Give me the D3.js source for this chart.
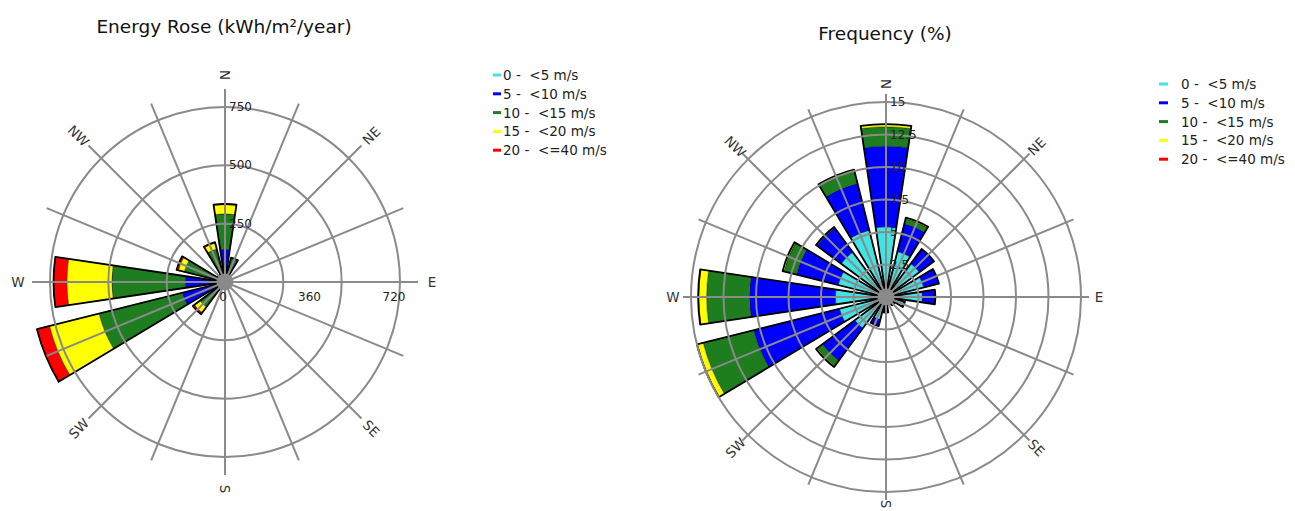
<!DOCTYPE html>
<html lang="en">
<head>
    <meta charset="UTF-8">
    <title>Energy Rose and Frequency Rose</title>
    <script src="https://d3js.org/d3.v7.min.js"></script>
    <style>
        body {
            margin: 0;
            background: white;
            overflow: hidden;
        }
        svg {
            display: block;
            font-family: "DejaVu Sans", sans-serif;
        }
    </style>
</head>
<body>
    <svg id="chart" width="1295" height="511"></svg>

    <script>
        const directions = ["N", "NNE", "NE", "ENE", "E", "ESE", "SE", "SSE",
                            "S", "SSW", "SW", "WSW", "W", "WNW", "NW", "NNW"];
        const compassLabels = ["N", "NE", "E", "SE", "S", "SW", "W", "NW"];
        const speedClasses = ["0 -  <5 m/s", "5 -  <10 m/s", "10 -  <15 m/s",
                              "15 -  <20 m/s", "20 -  <=40 m/s"];

        // energy rose, kWh/m²/year per speed class
        const energy0to5   = [12, 5, 4, 3, 3, 1, 1, 1, 1, 2, 5, 8, 8, 4, 4, 5];
        const energy5to10  = [128, 35, 10, 6, 5, 1, 0, 0, 2, 6, 55, 181, 163, 60, 22, 45];
        const energy10to15 = [152, 65, 0, 0, 0, 0, 0, 0, 0, 10, 74, 368, 314, 116, 12, 96];
        const energy15to20 = [40, 3, 0, 0, 0, 0, 0, 0, 0, 0, 30, 219, 193, 26, 0, 26];
        const energy20to40 = [3, 0, 0, 0, 0, 0, 0, 0, 0, 0, 8, 55, 57, 8, 0, 4];

        // frequency rose, % per speed class
        const freq0to5   = [5.4, 3.6, 3.2, 3.0, 2.8, 1.4, 0.8, 0.6, 0.9, 1.8, 3.0, 3.7, 3.9, 3.8, 4.3, 5.3];
        const freq5to10  = [6.2, 2.2, 1.4, 1.2, 1.0, 0.1, 0, 0, 0.3, 0.5, 3.1, 6.8, 6.6, 3.3, 2.3, 3.7];
        const freq10to15 = [1.5, 0.4, 0, 0, 0, 0, 0, 0, 0, 0, 0.5, 4.0, 3.3, 1.0, 0.1, 1.0];
        const freq15to20 = [0.2, 0.1, 0, 0, 0, 0, 0, 0, 0, 0, 0.1, 0.45, 0.6, 0.1, 0, 0.1];
        const freq20to40 = [0, 0, 0, 0, 0, 0, 0, 0, 0, 0, 0, 0.05, 0.05, 0, 0, 0];

        // tick labels
        const energyRingTicks = [250, 500, 750];
        const energyAxisTicks = [0, 360, 720];
        const freqRingTicks = [2.5, 5, 7.5, 10, 12.5, 15];

        const classColors = ["#40e4e4", "#0000ff", "#1e7d1e", "#ffff00", "#ff0000"];
        const gridColor = "#8a8a8a";
        const height = 511;

        const svg = d3.select("#chart");

        function drawRose(cfg) {
            const g = svg.append("g")
                .attr("transform", `translate(${cfg.cx},${cfg.cy})`);

            const r = d3.scaleLinear()
                .domain([0, cfg.maxValue])
                .range([0, cfg.radius]);

            // band per direction, N centred on 0
            const step = 2 * Math.PI / directions.length;
            const angle = d3.scaleBand()
                .domain(directions)
                .range([-step / 2, 2 * Math.PI - step / 2])
                .paddingInner(0.25)
                .paddingOuter(0.125);
            const mid = d => angle(d) + angle.bandwidth() / 2;

            const rows = directions.map((d, i) => {
                const row = {dir: d};
                cfg.series.forEach((s, k) => row[k] = s[i]);
                return row;
            });
            const keys = d3.range(cfg.series.length);
            const stacked = d3.stack().keys(keys)(rows);

            const segArc = d3.arc()
                .innerRadius(d => r(d[0]))
                .outerRadius(d => r(d[1]))
                .startAngle(d => angle(d.data.dir))
                .endAngle(d => angle(d.data.dir) + angle.bandwidth());

            g.selectAll("g.layer")
                .data(stacked)
                .enter()
                .append("g")
                .attr("class", "layer")
                .attr("fill", (d, i) => classColors[i])
                .selectAll("path")
                .data(d => d.filter(p => p[1] - p[0] > 0))
                .enter()
                .append("path")
                .attr("d", segArc)
                .attr("stroke", "#000")
                .attr("stroke-opacity", 0.55)
                .attr("stroke-width", 0.6);

            // black outline of every bar
            const outline = d3.arc()
                .innerRadius(0)
                .outerRadius(d => r(d3.sum(keys, k => d[k])))
                .startAngle(d => angle(d.dir))
                .endAngle(d => angle(d.dir) + angle.bandwidth());

            g.selectAll("path.outline")
                .data(rows.filter(d => d3.sum(keys, k => d[k]) > 0))
                .enter()
                .append("path")
                .attr("class", "outline")
                .attr("d", outline)
                .attr("fill", "none")
                .attr("stroke", "#000")
                .attr("stroke-width", 1.8)
                .attr("stroke-linejoin", "round");

            // grid on top of the bars
            g.selectAll("circle.ring")
                .data(cfg.ringTicks)
                .enter()
                .append("circle")
                .attr("class", "ring")
                .attr("r", d => r(d))
                .attr("fill", "none")
                .attr("stroke", gridColor)
                .attr("stroke-width", 2);

            g.selectAll("line.spoke")
                .data(directions)
                .enter()
                .append("line")
                .attr("class", "spoke")
                .attr("x1", 0)
                .attr("y1", 0)
                .attr("x2", d => d3.pointRadial(mid(d), cfg.spokeLength)[0])
                .attr("y2", d => d3.pointRadial(mid(d), cfg.spokeLength)[1])
                .attr("stroke", gridColor)
                .attr("stroke-width", 2);

            g.append("circle")
                .attr("r", 8.5)
                .attr("fill", gridColor);

            // compass labels, written along the radius; keep the bottom one inside the picture
            g.selectAll("text.compass")
                .data(compassLabels)
                .enter()
                .append("text")
                .attr("class", "compass")
                .attr("transform", d => {
                    const a = mid(d);
                    let rad = cfg.labelRadius;
                    if (-Math.cos(a) > 0.9) rad = Math.min(rad, (height - 7 - cfg.cy) / -Math.cos(a));
                    const [x, y] = d3.pointRadial(a, rad);
                    let rot = a * 180 / Math.PI + 90;
                    while (rot > 90) rot -= 180;
                    return `translate(${x},${y}) rotate(${rot})`;
                })
                .attr("text-anchor", "middle")
                .attr("dominant-baseline", "central")
                .attr("fill", "#333")
                .style("font-size", "13.5px")
                .text(d => d);

            // ring values along the north spoke
            g.selectAll("text.ringTick")
                .data(cfg.ringTicks)
                .enter()
                .append("text")
                .attr("class", "ringTick")
                .attr("x", 4)
                .attr("y", d => -r(d))
                .attr("dominant-baseline", "central")
                .attr("fill", "#222")
                .style("font-size", "12px")
                .text(d => d);

            if (cfg.axisTicks) {
                const ax = d3.scaleLinear()
                    .domain([0, 720])
                    .range([0, 169]);
                g.selectAll("text.axisTick")
                    .data(cfg.axisTicks)
                    .enter()
                    .append("text")
                    .attr("class", "axisTick")
                    .attr("x", d => ax(d) - (d === 0 ? 2 : 0))
                    .attr("y", 15)
                    .attr("text-anchor", "middle")
                    .attr("dominant-baseline", "central")
                    .attr("fill", "#222")
                    .style("font-size", "12px")
                    .text(d => d);
            }

            svg.append("text")
                .attr("x", cfg.titleX)
                .attr("y", cfg.titleY)
                .attr("text-anchor", "middle")
                .attr("fill", "#111")
                .style("font-size", "18.5px")
                .text(cfg.title);

            // legend
            const legend = svg.append("g")
                .attr("transform", `translate(${cfg.legendX},${cfg.legendY})`);
            const item = legend.selectAll("g")
                .data(speedClasses)
                .enter()
                .append("g")
                .attr("transform", (d, i) => `translate(0,${i * 18.8})`);
            item.append("line")
                .attr("x1", 0)
                .attr("x2", cfg.markerWidth)
                .attr("stroke", (d, i) => classColors[i])
                .attr("stroke-width", 3);
            item.append("text")
                .attr("x", cfg.legendTextX)
                .attr("dominant-baseline", "central")
                .attr("fill", "#222")
                .style("font-size", "13.5px")
                .style("white-space", "pre")
                .text(d => d);
        }

        drawRose({
            cx: 225, cy: 282,
            maxValue: 750, radius: 175,
            spokeLength: 193, labelRadius: 207,
            series: [energy0to5, energy5to10, energy10to15, energy15to20, energy20to40],
            ringTicks: energyRingTicks,
            axisTicks: energyAxisTicks,
            title: "Energy Rose (kWh/m²/year)",
            titleX: 224, titleY: 33,
            legendX: 493, legendY: 75, markerWidth: 8, legendTextX: 10
        });

        drawRose({
            cx: 886, cy: 297,
            maxValue: 15, radius: 195,
            spokeLength: 203, labelRadius: 213,
            series: [freq0to5, freq5to10, freq10to15, freq15to20, freq20to40],
            ringTicks: freqRingTicks,
            axisTicks: null,
            title: "Frequency (%)",
            titleX: 885, titleY: 40,
            legendX: 1159, legendY: 84, markerWidth: 9, legendTextX: 22
        });
    </script>
</body>
</html>
